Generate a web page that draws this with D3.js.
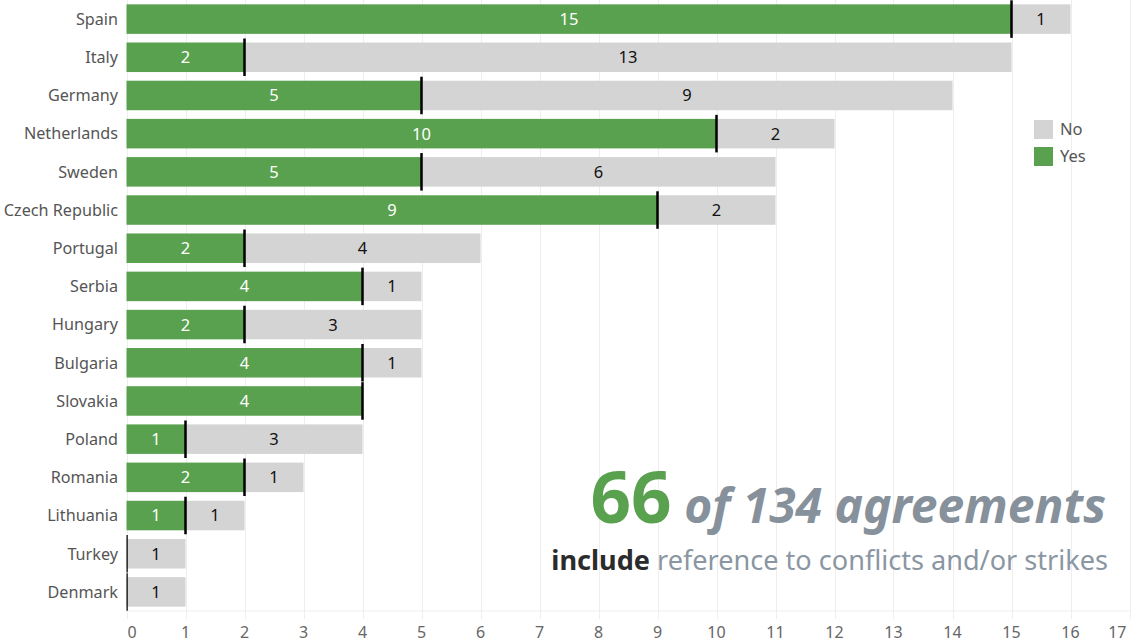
<!DOCTYPE html>
<html>
<head>
<meta charset="utf-8">
<script src="https://cdn.jsdelivr.net/npm/d3@7"></script>
<style>
  html, body { margin: 0; padding: 0; background: #fff; }
  svg { display: block; }
</style>
</head>
<body>
<svg id="chart" width="1133" height="643"></svg>
<script>
const countries = ["Spain","Italy","Germany","Netherlands","Sweden","Czech Republic","Portugal","Serbia","Hungary","Bulgaria","Slovakia","Poland","Romania","Lithuania","Turkey","Denmark"];
const yesValues = [15,2,5,10,5,9,2,4,2,4,4,1,2,1,0,0];
const noValues  = [1,13,9,2,6,2,4,1,3,1,0,3,1,1,1,1];
const xTicks = [0,1,2,3,4,5,6,7,8,9,10,11,12,13,14,15,16,17];
const legendLabels = ["No","Yes"];
const headline = {big: "66", rest: "of 134 agreements", bold: "include", tail: "reference to conflicts and/or strikes"};

const GREEN = "#59A14F", GREY = "#D4D4D4";
const FONT = "'Noto Sans', 'Open Sans', sans-serif";

const svg = d3.select("#chart");
const x0 = 126.5, x1 = 1129.5, plotBottom = 611;

const x = d3.scaleLinear().domain([0, 17]).range([x0, x1]);
const y = d3.scaleBand().domain(countries).range([0, plotBottom]).paddingInner(0.227).paddingOuter(0.1135);

// gridlines
svg.append("g").selectAll("line").data(xTicks).join("line")
  .attr("x1", d => Math.round(x(d)) + 0.5).attr("x2", d => Math.round(x(d)) + 0.5)
  .attr("y1", 0).attr("y2", plotBottom + 8)
  .attr("stroke", "#EEEEEE").attr("stroke-width", 1);

// baseline
svg.append("line").attr("x1", x0).attr("x2", x1).attr("y1", plotBottom).attr("y2", plotBottom)
  .attr("stroke", "#EEEEEE");

const data = countries.map((c, i) => ({c, yes: yesValues[i], no: noValues[i]}));

svg.append("clipPath").attr("id", "plotclip").append("rect")
  .attr("x", x0).attr("y", 0).attr("width", x1 - x0).attr("height", plotBottom);

const g = svg.append("g");
g.selectAll("rect.yes").data(data.filter(d => d.yes > 0)).join("rect")
  .attr("class", "yes")
  .attr("x", x(0)).attr("width", d => x(d.yes) - x(0))
  .attr("y", d => y(d.c)).attr("height", y.bandwidth())
  .attr("fill", GREEN);
g.selectAll("rect.no").data(data.filter(d => d.no > 0)).join("rect")
  .attr("class", "no")
  .attr("x", d => x(d.yes)).attr("width", d => x(d.yes + d.no) - x(d.yes))
  .attr("y", d => y(d.c)).attr("height", y.bandwidth())
  .attr("fill", GREY);
g.append("g").attr("clip-path", "url(#plotclip)").selectAll("line").data(data).join("line")
  .attr("x1", d => x(d.yes)).attr("x2", d => x(d.yes))
  .attr("y1", d => y(d.c) - 4).attr("y2", d => y(d.c) + y.bandwidth() + 4)
  .attr("stroke", "#000").attr("stroke-width", 2.5);

g.selectAll("text.yl").data(data.filter(d => d.yes > 0)).join("text")
  .attr("x", d => (x(0) + x(d.yes)) / 2).attr("y", d => y(d.c) + y.bandwidth() / 2)
  .attr("dy", "0.36em").attr("text-anchor", "middle")
  .attr("font-family", FONT).attr("font-size", 16.5).attr("fill", "#fff")
  .text(d => d.yes);
g.selectAll("text.nl").data(data.filter(d => d.no > 0)).join("text")
  .attr("x", d => (x(d.yes) + x(d.yes + d.no)) / 2).attr("y", d => y(d.c) + y.bandwidth() / 2)
  .attr("dy", "0.36em").attr("text-anchor", "middle")
  .attr("font-family", FONT).attr("font-size", 16.5).attr("fill", "#111")
  .text(d => d.no);

svg.append("g").selectAll("text").data(countries).join("text")
  .attr("x", 118).attr("y", d => y(d) + y.bandwidth() / 2).attr("dy", "0.36em")
  .attr("text-anchor", "end").attr("font-family", FONT).attr("font-size", 16.2)
  .attr("fill", "#555").text(d => d);

svg.append("g").selectAll("text").data(xTicks).join("text")
  .attr("x", d => d === 0 ? x(d) + 1 : d === 17 ? x(d) - 3 : x(d))
  .attr("y", 632).attr("dy", "0.36em")
  .attr("text-anchor", d => d === 0 ? "start" : d === 17 ? "end" : "middle")
  .attr("font-family", FONT).attr("font-size", 16).attr("fill", "#666")
  .text(d => d);

const lg = svg.append("g");
legendLabels.forEach((l, i) => {
  lg.append("rect").attr("x", 1034).attr("y", 120 + i * 27).attr("width", 19).attr("height", 19)
    .attr("fill", l === "No" ? GREY : GREEN);
  lg.append("text").attr("x", 1060).attr("y", 129.5 + i * 27).attr("dy", "0.36em")
    .attr("font-family", FONT).attr("font-size", 16.5).attr("fill", "#555").text(l);
});

const t1 = svg.append("text").attr("x", 1106).attr("y", 523).attr("text-anchor", "end")
  .attr("font-family", FONT);
t1.append("tspan").attr("font-size", 71).attr("font-weight", 700).attr("fill", GREEN).text(headline.big);
t1.append("tspan").attr("font-size", 48).attr("font-weight", 700).attr("font-style", "italic")
  .attr("fill", "#86919C").text(" " + headline.rest);

const t2 = svg.append("text").attr("x", 1108).attr("y", 570).attr("text-anchor", "end")
  .attr("font-family", FONT).attr("font-size", 27.1);
t2.append("tspan").attr("font-weight", 700).attr("fill", "#2B2B2B").text(headline.bold);
t2.append("tspan").attr("fill", "#8A96A2").text(" " + headline.tail);
</script>
</body>
</html>
